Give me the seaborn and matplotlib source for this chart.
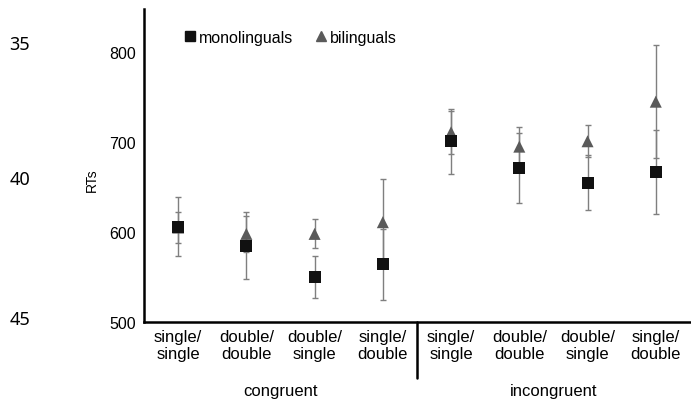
import matplotlib
matplotlib.use("Agg")
import matplotlib.pyplot as plt
import matplotlib.transforms as mtransforms
import numpy as np
import pandas as pd
import seaborn as sns

# condition labels (x axis) and groups
conditions = ["single/\nsingle", "double/\ndouble", "double/\nsingle", "single/\ndouble",
              "single/\nsingle", "double/\ndouble", "double/\nsingle", "single/\ndouble"]
groups = ["congruent", "incongruent"]

# mean RTs and error bar half-widths
mono_rt = [606, 585, 550, 564, 701, 671, 655, 667]
mono_err = [33, 37, 23, 39, 36, 39, 31, 47]
bil_rt = [605, 598, 598, 611, 711, 695, 701, 745]
bil_err = [17, 20, 16, 48, 24, 22, 18, 63]

# manuscript line numbers in the left margin
line_numbers = ["35", "40", "45"]

sns.set_style("white")
plt.rcParams["font.family"] = ["Liberation Sans", "DejaVu Sans"]
plt.rcParams["text.color"] = "black"
plt.rcParams["xtick.color"] = "black"
plt.rcParams["ytick.color"] = "black"

pos = np.arange(len(conditions))
df = pd.DataFrame({
    "pos": np.concatenate([pos, pos]),
    "rt": bil_rt + mono_rt,
    "err": bil_err + mono_err,
    "group": ["bilinguals"] * len(pos) + ["monolinguals"] * len(pos),
})

fig = plt.figure(figsize=(6.91, 4.02), dpi=100)
ax = fig.add_axes([0.2084, 0.1965, 0.79, 0.7785])

ax.errorbar(pos, bil_rt, yerr=bil_err, fmt="none", ecolor="#7f7f7f",
            elinewidth=1.0, capsize=2.5, capthick=1.0, zorder=1)
ax.errorbar(pos, mono_rt, yerr=mono_err, fmt="none", ecolor="#7f7f7f",
            elinewidth=1.0, capsize=2.5, capthick=1.0, zorder=1)

sns.scatterplot(data=df, x="pos", y="rt", hue="group", style="group",
                hue_order=["bilinguals", "monolinguals"],
                style_order=["bilinguals", "monolinguals"],
                palette={"bilinguals": "#5a5a5a", "monolinguals": "#111111"},
                markers={"bilinguals": "^", "monolinguals": "s"},
                s=75, linewidth=0, ax=ax, legend=False, zorder=3)

ax.set_xlim(-0.5, 7.5)
ax.set_ylim(500, 848)
ax.set_yticks([500, 600, 700, 800])
ax.set_xticks(np.arange(-0.5, 8, 1))
ax.set_xticklabels([])
ax.set_xticks(pos, minor=True)
ax.set_xticklabels(conditions, minor=True, fontsize=12, linespacing=1.15)
ax.tick_params(axis="x", which="minor", length=0, pad=5)
ax.tick_params(axis="x", which="major", direction="out", length=3, width=1.5, color="black")
ax.tick_params(axis="y", direction="out", length=3, width=1.5, color="black",
               labelsize=11.5, pad=3)
ax.set_xlabel("")
ax.set_ylabel("")

for side in ["top", "right"]:
    ax.spines[side].set_visible(False)
for side in ["left", "bottom"]:
    ax.spines[side].set_color("black")
    ax.spines[side].set_linewidth(1.8)

# legend
h_mono = plt.Line2D([], [], marker="s", color="#111111", ls="none", markersize=7.5)
h_bil = plt.Line2D([], [], marker="^", color="#5a5a5a", ls="none", markersize=7.5)
ax.legend([h_mono, h_bil], ["monolinguals", "bilinguals"], ncol=2, frameon=False,
          loc="upper left", bbox_to_anchor=(0.04, 0.98), fontsize=11.5,
          handletextpad=0.0, columnspacing=1.1, handlelength=1.2)

# group labels and divider
trans = mtransforms.blended_transform_factory(ax.transData, fig.transFigure)
ax.text(1.5, 0.025, groups[0], transform=trans, ha="center", va="center", fontsize=12)
ax.text(5.5, 0.025, groups[1], transform=trans, ha="center", va="center", fontsize=12)
ax.add_line(plt.Line2D([3.5, 3.5], [0.1965, 0.058], transform=trans, color="black",
                       lw=1.8, clip_on=False))

fig.text(92 / 691, 1 - 180 / 402, "RTs", rotation=90, ha="center", va="center", fontsize=10)

for lab, yy in zip(line_numbers, [45, 180, 320]):
    fig.text(20 / 691, 1 - yy / 402, lab, ha="center", va="center", fontsize=13,
             family=["Noto Sans", "DejaVu Sans"])

fig.savefig("out.png", dpi=100)
